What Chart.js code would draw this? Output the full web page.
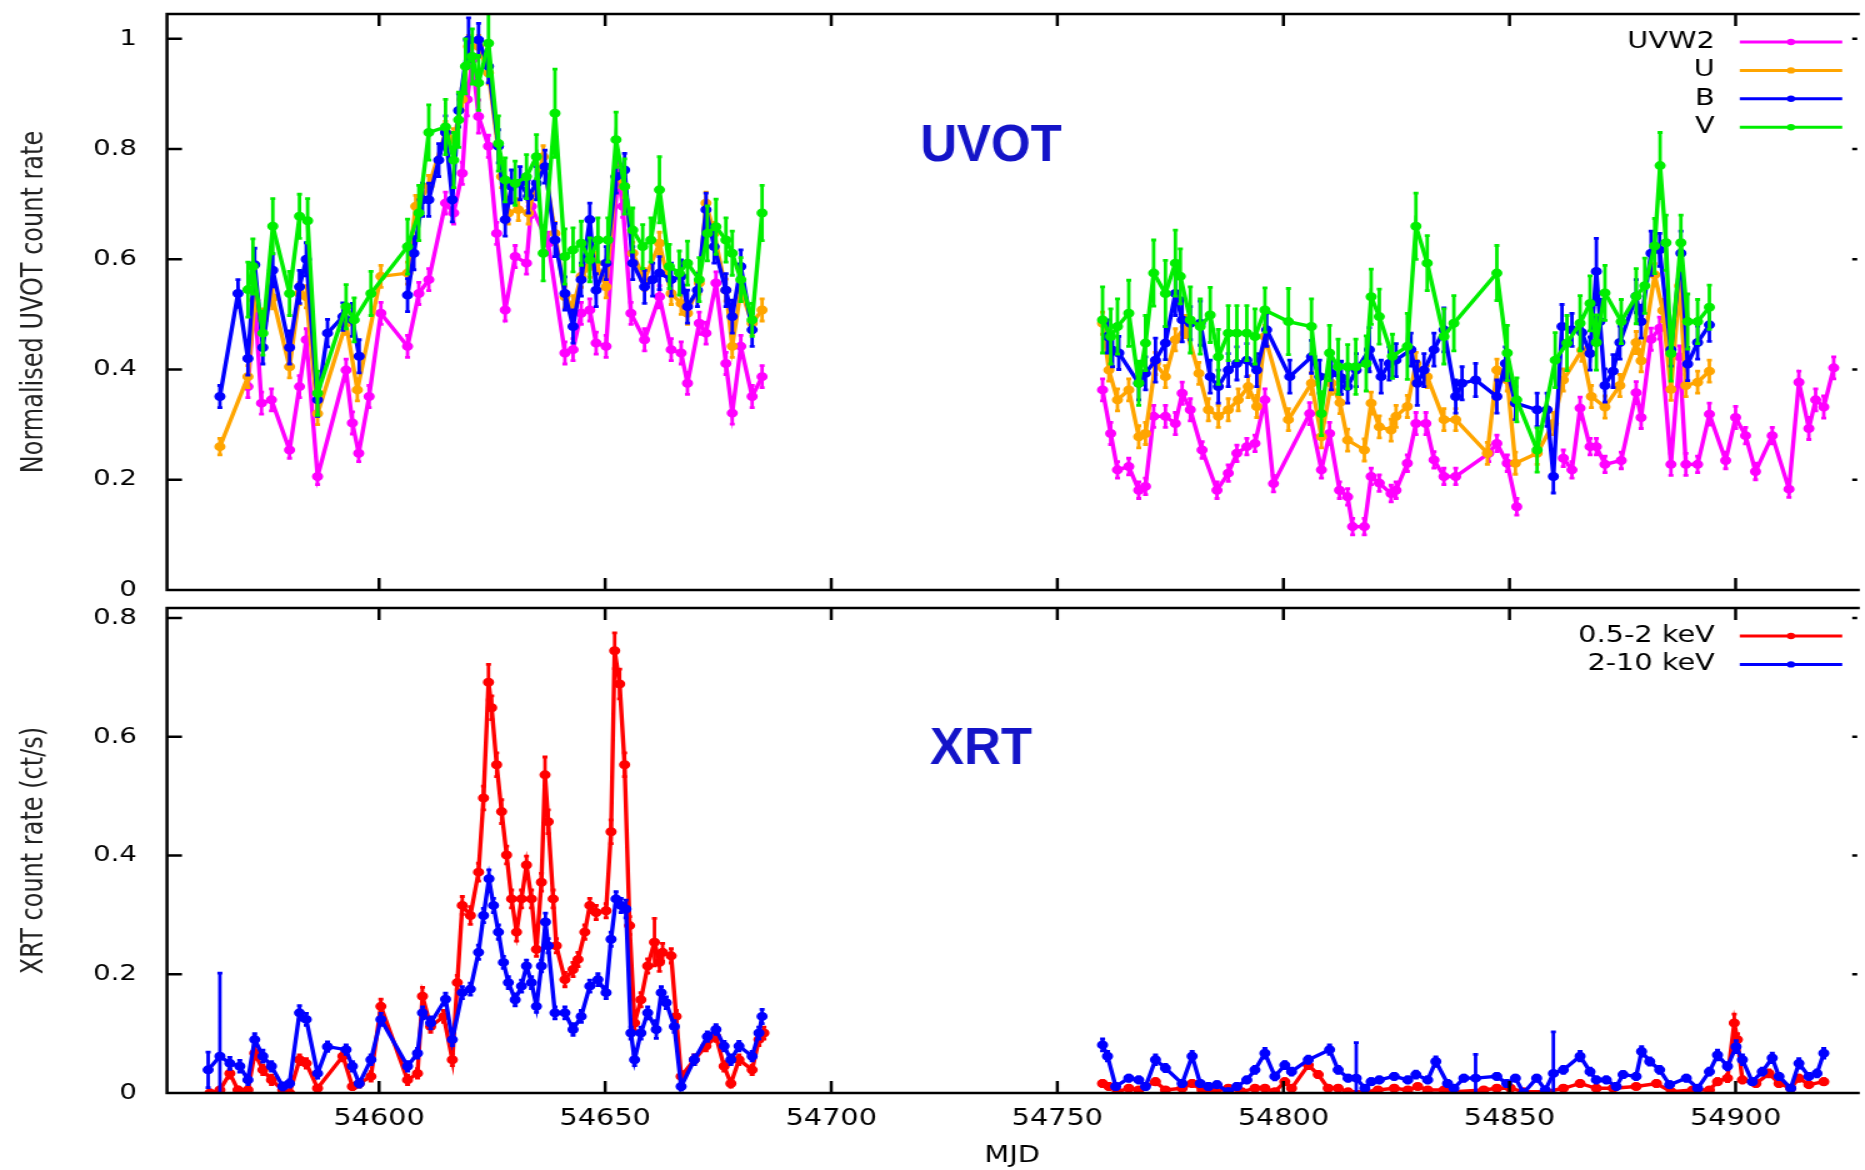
<!DOCTYPE html>
<html>
<head>
<meta charset="utf-8">
<script src="https://cdn.jsdelivr.net/npm/chart.js@4.4.1/dist/chart.umd.min.js"></script>
<style>
  html, body { margin: 0; padding: 0; background: #fff; }
  body { width: 1865px; height: 1170px; position: relative; overflow: hidden; }
  .panel { position: absolute; left: 0; transform-origin: 0 0; transform: scaleX(1.25); }
</style>
</head>
<body>
<div class="panel" style="top:0"><canvas id="uvot" width="1492" height="600"></canvas></div>
<div class="panel" style="top:600px"><canvas id="xrt" width="1492" height="570"></canvas></div>
<script>
// light curves, [MJD, rate, error]; null = break in the line
var uvw2 = [
 [54571.0,0.369,0.02],[54572.5,0.526,0.03],[54574.0,0.339,0.02],[54576.2,0.345,0.02],[54580.2,0.254,0.015],[54582.4,0.369,0.02],
 [54583.9,0.454,0.02],[54586.4,0.206,0.015],[54592.7,0.399,0.02],[54594.1,0.303,0.02],[54595.5,0.248,0.015],[54597.8,0.351,0.02],
 [54600.4,0.502,0.02],[54606.3,0.442,0.02],[54608.8,0.538,0.02],[54611.0,0.563,0.02],[54614.7,0.702,0.02],[54616.5,0.684,0.02],
 [54618.4,0.756,0.02],[54619.5,0.890,0.03],[54620.6,0.962,0.03],[54622.0,0.859,0.03],[54624.2,0.805,0.02],[54626.0,0.647,0.02],
 [54627.9,0.508,0.02],[54630.1,0.605,0.02],[54632.6,0.593,0.02],[54633.7,0.696,0.02],[54637.4,0.629,0.02],[54641.1,0.430,0.02],
 [54642.9,0.436,0.02],[54644.7,0.502,0.02],[54646.6,0.508,0.02],[54648.0,0.448,0.02],[54650.2,0.442,0.02],[54652.8,0.756,0.03],
 [54653.9,0.696,0.02],[54655.7,0.502,0.02],[54658.7,0.454,0.02],[54662.0,0.532,0.02],[54664.6,0.436,0.02],[54666.8,0.430,0.02],
 [54668.2,0.375,0.02],[54670.8,0.484,0.02],[54672.3,0.466,0.02],[54674.5,0.557,0.02],[54676.7,0.411,0.02],[54678.1,0.321,0.02],
 [54680.0,0.442,0.02],[54682.5,0.351,0.02],[54684.7,0.387,0.02],
 null,
 [54760.0,0.363,0.02],[54761.8,0.284,0.02],[54763.3,0.218,0.015],[54765.8,0.224,0.015],[54768.0,0.181,0.015],[54769.5,0.188,0.015],
 [54771.3,0.315,0.02],[54773.9,0.315,0.02],[54776.1,0.302,0.02],[54777.6,0.357,0.02],[54779.4,0.327,0.02],[54782.0,0.254,0.015],
 [54785.3,0.181,0.015],[54787.8,0.212,0.015],[54789.7,0.248,0.015],[54791.9,0.260,0.015],[54793.7,0.266,0.015],[54795.9,0.345,0.02],
 [54797.8,0.193,0.015],[54805.8,0.320,0.02],[54808.4,0.218,0.015],[54810.2,0.284,0.02],[54812.4,0.181,0.015],[54814.2,0.169,0.015],
 [54815.3,0.115,0.015],[54817.9,0.115,0.015],[54819.4,0.206,0.015],[54821.2,0.194,0.015],[54823.8,0.175,0.015],[54824.9,0.181,0.015],
 [54827.4,0.230,0.015],[54829.3,0.302,0.02],[54831.5,0.302,0.02],[54833.3,0.236,0.015],[54835.5,0.206,0.015],[54838.1,0.206,0.015],
 [54845.4,0.248,0.015],[54847.2,0.266,0.015],[54849.5,0.230,0.015],[54851.6,0.151,0.015],
 null,
 [54861.9,0.239,0.015],[54863.8,0.218,0.015],[54865.6,0.330,0.02],[54867.8,0.260,0.015],[54869.2,0.260,0.015],[54871.1,0.228,0.015],
 [54874.7,0.235,0.015],[54878.0,0.358,0.02],[54879.1,0.313,0.02],[54881.3,0.455,0.02],[54883.2,0.475,0.02],[54885.7,0.228,0.02],
 [54887.6,0.423,0.02],[54889.0,0.228,0.02],[54891.6,0.228,0.015],[54894.2,0.319,0.02],[54897.8,0.235,0.015],[54900.0,0.313,0.02],
 [54902.2,0.280,0.015],[54904.4,0.215,0.015],[54908.1,0.280,0.015],[54911.8,0.183,0.015],[54914.0,0.377,0.02],[54916.2,0.293,0.02],
 [54917.7,0.345,0.02],[54919.5,0.332,0.02],[54921.7,0.403,0.02]
];

var uBand = [
 [54564.8,0.260,0.015],[54571.0,0.387,0.02],[54572.5,0.526,0.02],[54574.3,0.490,0.02],[54576.5,0.530,0.02],[54580.2,0.405,0.02],
 [54582.4,0.538,0.02],[54583.9,0.532,0.02],[54586.4,0.320,0.02],[54592.7,0.484,0.02],[54595.2,0.363,0.02],[54600.4,0.569,0.02],
 [54606.3,0.575,0.02],[54608.1,0.696,0.02],[54611.0,0.732,0.02],[54614.7,0.830,0.02],[54616.5,0.817,0.02],[54618.4,0.890,0.02],
 [54619.8,0.986,0.02],[54622.0,0.986,0.02],[54624.2,0.938,0.02],[54627.1,0.750,0.02],[54628.6,0.684,0.02],[54630.8,0.690,0.02],
 [54633.0,0.684,0.02],[54636.3,0.786,0.02],[54638.9,0.647,0.02],[54641.1,0.532,0.02],[54642.9,0.514,0.02],[54644.7,0.569,0.02],
 [54646.6,0.587,0.02],[54648.0,0.593,0.02],[54650.2,0.550,0.02],[54652.4,0.750,0.02],[54654.3,0.732,0.02],[54656.1,0.611,0.02],
 [54658.7,0.563,0.02],[54662.0,0.629,0.02],[54664.6,0.538,0.02],[54666.8,0.520,0.02],[54668.2,0.502,0.02],[54670.8,0.557,0.02],
 [54672.3,0.702,0.02],[54674.1,0.647,0.02],[54676.7,0.544,0.02],[54678.1,0.442,0.02],[54680.0,0.544,0.02],[54682.5,0.484,0.02],
 [54684.7,0.508,0.02],
 null,
 [54760.0,0.484,0.02],[54761.4,0.399,0.02],[54763.3,0.345,0.02],[54765.8,0.363,0.02],[54768.0,0.278,0.02],[54769.5,0.284,0.02],
 [54771.7,0.411,0.02],[54773.9,0.387,0.02],[54776.1,0.454,0.02],[54778.3,0.478,0.02],[54781.3,0.393,0.02],[54783.4,0.327,0.02],
 [54785.6,0.315,0.02],[54787.8,0.327,0.02],[54790.0,0.345,0.02],[54792.2,0.369,0.02],[54794.1,0.333,0.02],[54795.9,0.460,0.02],
 [54801.1,0.309,0.02],[54806.2,0.375,0.02],[54808.4,0.278,0.02],[54810.6,0.375,0.02],[54812.5,0.340,0.02],[54814.2,0.272,0.02],
 [54817.9,0.254,0.02],[54819.4,0.339,0.02],[54821.2,0.296,0.02],[54823.8,0.290,0.02],[54824.9,0.315,0.02],[54827.4,0.333,0.02],
 [54829.3,0.411,0.02],[54831.8,0.387,0.02],[54835.5,0.309,0.02],[54838.1,0.309,0.02],[54845.1,0.248,0.02],[54847.2,0.399,0.02],
 [54849.5,0.381,0.02],[54851.3,0.230,0.02],[54856.1,0.248,0.02],[54859.7,0.302,0.02],[54861.9,0.381,0.02],[54866.0,0.435,0.02],
 [54868.1,0.351,0.02],[54871.1,0.332,0.02],[54874.4,0.371,0.02],[54878.0,0.449,0.02],[54879.1,0.416,0.02],[54882.1,0.572,0.02],
 [54883.9,0.507,0.02],[54885.7,0.364,0.02],[54887.6,0.552,0.02],[54889.0,0.371,0.02],[54891.6,0.377,0.02],[54894.2,0.397,0.02]
];

var bBand = [
 [54564.8,0.351,0.02],[54568.8,0.538,0.025],[54571.0,0.420,0.03],[54572.5,0.590,0.03],[54574.3,0.440,0.03],[54576.5,0.580,0.03],
 [54580.2,0.440,0.03],[54582.4,0.550,0.03],[54583.9,0.600,0.03],[54586.4,0.345,0.03],[54588.6,0.466,0.025],[54592.0,0.496,0.025],
 [54594.1,0.490,0.03],[54595.6,0.424,0.03],
 null,
 [54606.3,0.535,0.03],[54607.7,0.611,0.03],[54609.6,0.708,0.03],[54611.0,0.708,0.03],[54613.2,0.780,0.03],[54614.7,0.830,0.03],
 [54616.2,0.708,0.04],[54617.6,0.870,0.03],[54619.8,0.998,0.04],[54622.0,0.998,0.03],[54624.2,0.950,0.03],[54626.4,0.805,0.03],
 [54627.9,0.672,0.03],[54629.3,0.732,0.03],[54631.2,0.738,0.03],[54633.0,0.714,0.03],[54634.8,0.738,0.03],[54636.7,0.768,0.03],
 [54638.9,0.635,0.03],[54641.1,0.538,0.03],[54642.9,0.478,0.03],[54644.7,0.563,0.03],[54646.6,0.672,0.03],[54648.0,0.544,0.03],
 [54650.2,0.593,0.03],[54652.4,0.750,0.03],[54654.3,0.762,0.03],[54656.1,0.593,0.03],[54658.7,0.550,0.03],[54660.5,0.563,0.03],
 [54662.0,0.575,0.03],[54664.6,0.563,0.03],[54666.8,0.569,0.03],[54668.2,0.514,0.03],[54670.4,0.544,0.03],[54672.3,0.690,0.03],
 [54674.1,0.623,0.03],[54676.7,0.544,0.03],[54678.1,0.496,0.03],[54680.0,0.587,0.03],[54682.5,0.472,0.03],
 null,
 [54761.1,0.460,0.03],[54762.2,0.435,0.03],[54763.6,0.430,0.03],[54768.0,0.375,0.03],[54769.5,0.393,0.03],[54771.7,0.417,0.04],
 [54773.9,0.448,0.03],[54776.1,0.538,0.04],[54777.6,0.490,0.04],[54779.4,0.484,0.03],[54781.6,0.484,0.04],[54783.8,0.387,0.03],
 [54785.6,0.369,0.03],[54787.8,0.399,0.03],[54789.7,0.411,0.03],[54791.9,0.417,0.03],[54794.1,0.399,0.03],[54796.3,0.472,0.03],
 [54801.4,0.387,0.03],[54806.2,0.423,0.03],[54808.0,0.387,0.03],[54810.6,0.393,0.03],[54812.8,0.385,0.03],[54814.2,0.369,0.03],
 [54816.1,0.399,0.03],[54819.0,0.436,0.04],[54821.6,0.387,0.03],[54823.4,0.411,0.03],[54824.9,0.417,0.03],[54828.2,0.436,0.03],
 [54829.6,0.375,0.04],[54831.1,0.399,0.03],[54833.3,0.436,0.03],[54835.5,0.472,0.04],[54838.1,0.351,0.03],[54839.5,0.375,0.03],
 [54842.5,0.381,0.03],[54847.2,0.351,0.03],[54849.1,0.411,0.03],[54851.3,0.339,0.03],[54856.1,0.327,0.03],[54858.3,0.327,0.03],
 [54859.7,0.206,0.03],[54861.6,0.478,0.04],[54863.8,0.472,0.03],[54866.0,0.467,0.03],[54867.8,0.429,0.03],[54869.2,0.578,0.06],
 [54870.0,0.487,0.04],[54871.1,0.371,0.03],[54872.9,0.397,0.03],[54874.4,0.449,0.03],[54878.0,0.533,0.03],[54879.1,0.487,0.03],
 [54881.3,0.611,0.04],[54883.2,0.617,0.03],[54885.7,0.436,0.03],[54887.9,0.611,0.04],[54889.4,0.410,0.03],[54891.6,0.449,0.03],
 [54894.2,0.481,0.03]
];

var vBand = [
 [54571.0,0.545,0.05],[54572.1,0.587,0.05],[54574.3,0.466,0.04],[54576.5,0.660,0.05],[54580.2,0.538,0.04],[54582.4,0.678,0.04],
 [54584.2,0.670,0.04],[54586.4,0.357,0.04],[54592.7,0.514,0.04],[54594.5,0.490,0.04],[54598.2,0.538,0.04],[54606.3,0.623,0.05],
 [54608.8,0.684,0.05],[54611.0,0.830,0.05],[54614.7,0.840,0.05],[54616.5,0.780,0.05],[54617.6,0.853,0.05],[54619.1,0.950,0.05],
 [54620.6,0.968,0.05],[54622.0,0.920,0.05],[54624.2,0.992,0.06],[54626.4,0.810,0.05],[54627.9,0.744,0.04],[54630.1,0.738,0.04],
 [54632.6,0.750,0.04],[54634.8,0.786,0.04],[54636.3,0.611,0.05],[54638.9,0.865,0.08],[54641.1,0.605,0.05],[54642.9,0.617,0.04],
 [54644.7,0.629,0.04],[54646.6,0.599,0.04],[54648.4,0.635,0.04],[54650.6,0.635,0.04],[54652.4,0.817,0.05],[54654.3,0.732,0.05],
 [54656.1,0.653,0.04],[54658.3,0.623,0.04],[54660.1,0.635,0.04],[54662.0,0.726,0.06],[54664.2,0.587,0.04],[54666.4,0.575,0.04],
 [54668.2,0.593,0.04],[54670.8,0.563,0.04],[54672.6,0.647,0.05],[54674.5,0.659,0.05],[54676.7,0.635,0.04],[54678.1,0.611,0.04],
 [54680.0,0.563,0.04],[54682.5,0.490,0.03],[54684.7,0.684,0.05],
 null,
 [54760.0,0.490,0.06],[54761.8,0.460,0.05],[54763.3,0.478,0.05],[54765.8,0.502,0.06],[54768.0,0.375,0.04],[54769.5,0.448,0.05],
 [54771.3,0.575,0.06],[54773.9,0.538,0.06],[54776.1,0.593,0.06],[54777.2,0.569,0.05],[54779.4,0.490,0.06],[54781.6,0.478,0.05],
 [54783.8,0.499,0.05],[54785.6,0.423,0.05],[54787.8,0.466,0.05],[54789.7,0.466,0.05],[54791.9,0.466,0.05],[54793.7,0.460,0.05],
 [54795.9,0.508,0.04],[54801.1,0.487,0.06],[54806.2,0.478,0.05],[54808.4,0.320,0.04],[54810.2,0.430,0.05],[54812.1,0.405,0.05],
 [54814.2,0.405,0.04],[54816.0,0.405,0.05],[54818.3,0.411,0.05],[54819.4,0.532,0.05],[54821.2,0.496,0.05],[54824.1,0.424,0.04],
 [54827.4,0.442,0.06],[54829.3,0.660,0.06],[54831.8,0.593,0.05],[54835.5,0.460,0.05],[54837.7,0.484,0.05],[54847.2,0.575,0.05],
 [54849.5,0.430,0.05],[54851.6,0.345,0.04],[54856.1,0.254,0.04],[54860.1,0.417,0.05],[54862.7,0.448,0.05],[54865.6,0.484,0.05],
 [54867.8,0.520,0.05],[54869.2,0.449,0.05],[54871.1,0.539,0.05],[54874.7,0.487,0.04],[54878.0,0.533,0.05],[54879.9,0.552,0.05],
 [54882.1,0.624,0.05],[54883.3,0.770,0.06],[54884.6,0.630,0.05],[54885.7,0.429,0.05],[54887.9,0.630,0.05],[54889.4,0.487,0.05],
 [54891.6,0.487,0.04],[54894.2,0.513,0.04]
];

var soft = [
 [54562.6,0.000,0.005],[54564.8,0.005,0.005],[54567.0,0.033,0.008],[54568.8,0.005,0.005],[54571.0,0.005,0.005],[54572.5,0.067,0.01],
 [54574.3,0.039,0.008],[54576.2,0.022,0.008],[54578.7,0.005,0.005],[54580.2,0.000,0.005],[54582.4,0.056,0.008],[54583.9,0.050,0.008],
 [54586.4,0.008,0.005],[54592.0,0.062,0.008],[54594.1,0.011,0.005],[54595.6,0.016,0.006],[54598.2,0.028,0.008],[54600.4,0.146,0.012],
 [54606.3,0.022,0.008],[54608.5,0.033,0.008],[54609.6,0.163,0.015],[54611.4,0.112,0.01],[54614.3,0.129,0.01],[54616.2,0.056,0.01],
 [54617.3,0.186,0.012],[54618.4,0.316,0.015],[54620.2,0.299,0.015],[54622.0,0.372,0.015],[54623.1,0.497,0.02],[54624.2,0.692,0.03],
 [54624.9,0.649,0.02],[54626.0,0.553,0.02],[54627.1,0.474,0.02],[54628.2,0.401,0.015],[54629.3,0.327,0.015],[54630.4,0.271,0.015],
 [54631.5,0.327,0.015],[54632.6,0.384,0.015],[54633.7,0.327,0.015],[54634.8,0.242,0.012],[54635.9,0.355,0.015],[54636.7,0.536,0.03],
 [54637.4,0.457,0.02],[54638.5,0.327,0.015],[54639.2,0.248,0.012],[54641.1,0.191,0.012],[54642.9,0.208,0.012],[54644.0,0.225,0.012],
 [54645.5,0.271,0.012],[54646.6,0.316,0.012],[54648.0,0.304,0.012],[54650.2,0.307,0.012],[54651.3,0.440,0.02],[54652.1,0.745,0.03],
 [54653.2,0.689,0.025],[54654.3,0.553,0.02],[54655.4,0.282,0.015],[54656.5,0.118,0.012],[54657.9,0.157,0.012],[54659.4,0.214,0.012],
 [54660.9,0.254,0.04],[54662.0,0.220,0.015],[54662.7,0.237,0.015],[54664.6,0.231,0.012],[54665.7,0.129,0.01],[54666.8,0.028,0.008],
 [54669.7,0.056,0.008],[54672.3,0.079,0.008],[54674.5,0.095,0.008],[54676.3,0.045,0.008],[54677.8,0.016,0.006],[54679.6,0.056,0.008],
 [54682.5,0.039,0.008],[54684.0,0.090,0.01],[54685.1,0.101,0.01],
 null,
 [54760.0,0.016,0.005],[54761.4,0.011,0.005],[54763.3,0.002,0.004],[54765.8,0.008,0.004],[54768.0,0.005,0.004],[54771.7,0.019,0.005],
 [54773.9,0.005,0.004],[54777.6,0.008,0.004],[54779.8,0.016,0.005],[54782.0,0.005,0.004],[54784.9,0.002,0.004],[54787.8,0.008,0.004],
 [54790.8,0.002,0.004],[54793.7,0.008,0.004],[54795.9,0.008,0.004],[54798.1,0.002,0.004],[54800.3,0.019,0.005],[54801.8,0.008,0.004],
 [54805.5,0.047,0.006],[54807.7,0.031,0.005],[54809.9,0.008,0.004],[54812.1,0.008,0.004],[54814.3,0.002,0.004],[54818.0,0.002,0.004],
 [54820.9,0.005,0.004],[54824.5,0.008,0.004],[54827.5,0.005,0.004],[54829.7,0.011,0.004],[54831.9,0.005,0.004],[54835.5,0.005,0.004],
 [54837.7,0.002,0.004],[54844.3,0.005,0.004],[54847.2,0.008,0.004],[54850.2,0.008,0.004],[54853.1,0.002,0.004],[54858.2,0.002,0.004],
 [54861.9,0.008,0.004],[54865.6,0.016,0.005],[54869.2,0.008,0.004],[54872.9,0.008,0.004],[54878.0,0.011,0.004],[54882.5,0.016,0.005],
 [54885.8,0.002,0.004],[54890.5,0.005,0.004],[54894.2,0.005,0.004],[54896.0,0.019,0.005],[54898.2,0.025,0.006],[54899.7,0.118,0.015],
 [54900.4,0.090,0.01],[54901.5,0.022,0.005],[54904.5,0.016,0.005],[54907.4,0.033,0.006],[54909.6,0.016,0.005],[54912.2,0.008,0.004],
 [54914.0,0.025,0.005],[54916.2,0.014,0.004],[54919.5,0.019,0.005]
];

var hard = [
 [54562.2,0.039,0.03],[54564.8,0.062,0.14],[54567.0,0.050,0.01],[54569.2,0.045,0.01],[54571.0,0.022,0.008],[54572.5,0.090,0.01],
 [54574.3,0.062,0.01],[54576.2,0.045,0.008],[54578.7,0.011,0.006],[54580.2,0.016,0.006],[54582.4,0.135,0.012],[54583.9,0.124,0.01],
 [54586.4,0.033,0.008],[54588.6,0.078,0.008],[54592.7,0.073,0.008],[54594.1,0.045,0.008],[54595.6,0.016,0.006],[54598.2,0.056,0.008],
 [54600.4,0.124,0.01],[54606.3,0.045,0.008],[54608.5,0.067,0.008],[54609.6,0.135,0.01],[54611.4,0.118,0.01],[54614.7,0.158,0.01],
 [54616.2,0.090,0.01],[54618.4,0.169,0.01],[54620.2,0.175,0.01],[54622.0,0.237,0.012],[54623.1,0.299,0.012],[54624.3,0.361,0.015],
 [54625.3,0.316,0.012],[54626.4,0.271,0.012],[54627.5,0.220,0.01],[54628.6,0.186,0.01],[54630.1,0.157,0.01],[54631.5,0.180,0.01],
 [54632.6,0.214,0.01],[54633.7,0.186,0.01],[54634.8,0.146,0.01],[54635.9,0.214,0.01],[54636.8,0.288,0.015],[54637.4,0.248,0.012],
 [54638.9,0.135,0.01],[54641.1,0.135,0.01],[54642.9,0.107,0.01],[54644.7,0.129,0.01],[54646.6,0.180,0.01],[54648.4,0.191,0.01],
 [54650.2,0.169,0.01],[54651.3,0.259,0.012],[54652.4,0.327,0.012],[54653.5,0.316,0.012],[54654.6,0.310,0.015],[54655.7,0.101,0.01],
 [54656.5,0.056,0.01],[54657.9,0.101,0.01],[54659.4,0.135,0.01],[54661.3,0.107,0.015],[54662.4,0.169,0.01],[54663.5,0.152,0.01],
 [54665.3,0.112,0.01],[54666.8,0.011,0.006],[54669.7,0.056,0.008],[54672.6,0.095,0.008],[54674.5,0.107,0.008],[54676.3,0.079,0.008],
 [54677.8,0.056,0.008],[54679.6,0.079,0.008],[54682.5,0.062,0.008],[54684.0,0.101,0.01],[54684.7,0.129,0.012],
 null,
 [54760.0,0.081,0.01],[54761.1,0.062,0.008],[54762.9,0.011,0.005],[54765.8,0.025,0.005],[54768.0,0.022,0.005],[54769.5,0.011,0.005],
 [54771.7,0.056,0.008],[54773.9,0.042,0.006],[54777.6,0.016,0.005],[54779.8,0.062,0.008],[54781.6,0.016,0.005],[54783.4,0.011,0.005],
 [54785.3,0.014,0.005],[54787.8,0.002,0.005],[54789.7,0.011,0.005],[54791.9,0.022,0.005],[54793.7,0.039,0.006],[54795.9,0.067,0.008],
 [54798.1,0.028,0.006],[54800.3,0.047,0.006],[54801.8,0.036,0.006],[54805.5,0.056,0.006],[54810.2,0.073,0.008],[54812.1,0.039,0.006],
 [54814.3,0.025,0.005],[54816.1,0.025,0.06],[54818.0,0.008,0.005],[54819.4,0.019,0.005],[54821.2,0.022,0.005],[54824.5,0.028,0.005],
 [54827.5,0.022,0.005],[54829.3,0.031,0.006],[54831.9,0.022,0.005],[54833.7,0.053,0.008],[54836.3,0.016,0.005],[54837.7,0.008,0.005],
 [54839.9,0.025,0.005],[54842.5,0.025,0.04],[54847.2,0.028,0.005],[54849.4,0.016,0.005],[54851.3,0.025,0.005],[54853.1,0.000,0.005],
 [54856.0,0.025,0.005],[54857.9,0.005,0.005],[54859.7,0.033,0.07],[54861.9,0.039,0.006],[54865.6,0.062,0.008],[54867.8,0.036,0.006],
 [54869.2,0.022,0.005],[54871.4,0.022,0.005],[54873.6,0.011,0.005],[54875.1,0.031,0.005],[54878.0,0.028,0.005],[54879.2,0.070,0.008],
 [54881.0,0.053,0.006],[54883.2,0.039,0.006],[54885.4,0.014,0.005],[54889.1,0.025,0.005],[54891.6,0.008,0.005],[54894.2,0.036,0.006],
 [54896.0,0.064,0.008],[54898.2,0.045,0.006],[54900.1,0.078,0.01],[54901.5,0.056,0.008],[54903.7,0.019,0.005],[54905.9,0.036,0.006],
 [54908.1,0.059,0.008],[54909.6,0.028,0.005],[54912.2,0.008,0.005],[54914.0,0.050,0.008],[54916.2,0.028,0.005],[54918.0,0.033,0.006],
 [54919.5,0.067,0.008]
];

var mjdTicks = [54600, 54650, 54700, 54750, 54800, 54850, 54900];
var uvotTicks = [0, 0.2, 0.4, 0.6, 0.8, 1];
var xrtTicks = [0, 0.2, 0.4, 0.6, 0.8];
var mjdRange = [54553.1, 54926.9];

var S = 1.25;             // the original picture is stretched sideways
var W = 1865 / S;

function pontos(arr){
    return arr.map(function(p, i){
        if(p == null) return {x: arr[i-1][0] + 0.5, y: null};
        return {x: p[0], y: p[1], e: p[2]};
    });
}

function serie(label, arr, cor, ordem){
    return {
        label: label, data: pontos(arr), order: ordem,
        borderColor: cor, backgroundColor: cor,
        borderWidth: 3.4, pointRadius: 2.8, pointHoverRadius: 2.8,
        showLine: true, spanGaps: false, tension: 0
    };
}

function fixTicks(lista){
    return function(s){ s.ticks = lista.map(function(v){ return {value: v}; }); };
}

// error bars, drawn just under each line
var errorBars = {
    id: 'errorBars',
    beforeDatasetDraw: function(chart, args){
        var ds = chart.data.datasets[args.index];
        var ys = chart.scales.y, a = chart.chartArea, ctx = chart.ctx;
        ctx.save();
        ctx.beginPath();
        ctx.rect(a.left, a.top, a.right - a.left, a.bottom - a.top);
        ctx.clip();
        ctx.strokeStyle = ds.borderColor;
        ctx.lineWidth = 2.8;
        ctx.beginPath();
        args.meta.data.forEach(function(el, i){
            var p = ds.data[i];
            if(p.y == null || !p.e) return;
            var y1 = ys.getPixelForValue(p.y - p.e), y2 = ys.getPixelForValue(p.y + p.e);
            ctx.moveTo(el.x, y1); ctx.lineTo(el.x, y2);
            ctx.moveTo(el.x - 2, y1); ctx.lineTo(el.x + 2, y1);
            ctx.moveTo(el.x - 2, y2); ctx.lineTo(el.x + 2, y2);
        });
        ctx.stroke();
        ctx.restore();
    }
};

// gnuplot style box with inward ticks
var frame = {
    id: 'frame',
    afterDraw: function(chart){
        var ctx = chart.ctx, a = chart.chartArea, xs = chart.scales.x, ys = chart.scales.y;
        ctx.save();
        ctx.strokeStyle = '#000';
        ctx.lineWidth = 2.5;
        ctx.beginPath();
        ctx.moveTo(a.right + 2, a.top); ctx.lineTo(a.left, a.top);
        ctx.lineTo(a.left, a.bottom); ctx.lineTo(a.right + 2, a.bottom);
        xs.ticks.forEach(function(t){
            var x = xs.getPixelForValue(t.value);
            ctx.moveTo(x, a.top); ctx.lineTo(x, a.top + 12);
            ctx.moveTo(x, a.bottom); ctx.lineTo(x, a.bottom - 12);
        });
        ys.ticks.forEach(function(t){
            var y = ys.getPixelForValue(t.value);
            ctx.moveTo(a.left, y); ctx.lineTo(a.left + 12, y);
            ctx.moveTo(a.right, y); ctx.lineTo(a.right - 4, y);
        });
        ctx.stroke();
        ctx.restore();
    }
};

// key: text, then a line with a point
var chave = {
    id: 'chave',
    afterDraw: function(chart){
        var ctx = chart.ctx, a = chart.chartArea;
        ctx.save();
        ctx.font = '23px "DejaVu Sans"';
        ctx.textAlign = 'right';
        ctx.textBaseline = 'middle';
        chart.data.datasets.forEach(function(ds, i){
            var y = a.top + 28 + i * 28.4;
            ctx.fillStyle = '#000';
            ctx.fillText(ds.label, a.right - 114, y);
            ctx.strokeStyle = ds.borderColor;
            ctx.lineWidth = 3;
            ctx.beginPath(); ctx.moveTo(a.right - 94, y); ctx.lineTo(a.right - 12, y); ctx.stroke();
            ctx.fillStyle = ds.borderColor;
            ctx.beginPath(); ctx.arc(a.right - 53, y, 3.2, 0, Math.PI * 2); ctx.fill();
        });
        ctx.restore();
    }
};

// big panel name, not stretched like the rest
var nome = {
    id: 'nome',
    afterDraw: function(chart, args, opts){
        var ctx = chart.ctx;
        ctx.save();
        ctx.translate(opts.x / S, opts.y);
        ctx.scale(1 / S, 1);
        ctx.font = 'bold 51px "Liberation Sans"';
        ctx.fillStyle = '#1414c8';
        ctx.textAlign = 'center';
        ctx.textBaseline = 'middle';
        ctx.fillText(opts.text, 0, 0);
        ctx.restore();
    }
};

Chart.defaults.font.family = '"DejaVu Sans", sans-serif';
Chart.defaults.color = '#000';

function eixoY(titulo, lista, max){
    return {
        type: 'linear', min: 0, max: max,
        afterBuildTicks: fixTicks(lista),
        afterFit: function(s){ s.width = 167 / S; s.paddingTop = 0; s.paddingBottom = 0; },
        grid: {display: false, drawTicks: false}, border: {display: false},
        ticks: {padding: 24, font: {size: 22}, color: '#000', callback: function(v){ return String(v); }},
        title: {display: true, text: titulo, color: '#222', font: {size: 24}, padding: {top: 13, bottom: 0}}
    };
}

function opcoes(xAxis, yAxis, top, nomeOpts){
    return {
        responsive: false, animation: false, devicePixelRatio: 1,
        layout: {padding: {top: top, left: 0, right: 0, bottom: 0}},
        plugins: {legend: {display: false}, tooltip: {enabled: false}, nome: nomeOpts},
        scales: {x: xAxis, y: yAxis}
    };
}

new Chart(document.getElementById('uvot'), {
    type: 'scatter',
    data: {datasets: [
        serie('UVW2', uvw2, '#ff00ff', 3),
        serie('U', uBand, '#ffa500', 2),
        serie('B', bBand, '#0000ff', 1),
        serie('V', vBand, '#00ee00', 0)
    ]},
    options: opcoes({
        type: 'linear', min: mjdRange[0], max: mjdRange[1],
        afterBuildTicks: fixTicks(mjdTicks),
        afterFit: function(s){ s.height = 10; },
        grid: {display: false}, border: {display: false}, ticks: {display: false}
    }, eixoY('Normalised UVOT count rate', uvotTicks, 1.045), 14, {text: 'UVOT', x: 991, y: 147}),
    plugins: [errorBars, frame, chave, nome]
});

new Chart(document.getElementById('xrt'), {
    type: 'scatter',
    data: {datasets: [
        serie('0.5-2 keV', soft, '#ff0000', 1),
        serie('2-10 keV', hard, '#0000ff', 0)
    ]},
    options: opcoes({
        type: 'linear', min: mjdRange[0], max: mjdRange[1],
        afterBuildTicks: fixTicks(mjdTicks),
        afterFit: function(s){ s.height = 77; s.paddingLeft = 0; s.paddingRight = 0; },
        grid: {display: false, drawTicks: false}, border: {display: false},
        ticks: {padding: 12, font: {size: 23}, color: '#000', autoSkip: false, maxRotation: 0,
                callback: function(v){ return String(v); }},
        title: {display: true, text: 'MJD', color: '#000', font: {size: 23}, padding: {top: 0, bottom: 0}}
    }, eixoY('XRT count rate (ct/s)', xrtTicks, 0.817), 8, {text: 'XRT', x: 981, y: 150}),
    plugins: [errorBars, frame, chave, nome]
});
</script>
</body>
</html>
